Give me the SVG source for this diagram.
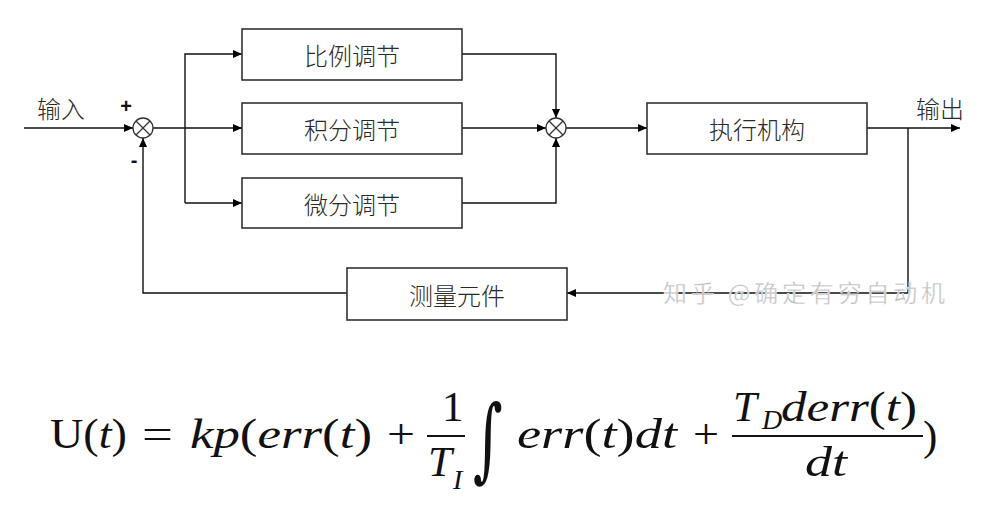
<svg xmlns="http://www.w3.org/2000/svg" width="995" height="507" viewBox="0 0 995 507">
<defs>
<marker id="arr" markerUnits="userSpaceOnUse" markerWidth="9" markerHeight="8" refX="9" refY="4" orient="auto">
<path d="M0,0 L9,4 L0,8 z" fill="#000"/>
</marker>
<style>
.box{fill:#fff;stroke:#333;stroke-width:1.6}
.lbl{font-family:"Noto Sans CJK SC","Noto Sans",sans-serif;font-size:24px;fill:#2a2a2a;text-anchor:middle;dominant-baseline:central;font-weight:300}
.wire{fill:none;stroke:#111;stroke-width:1.4}
.sum circle{fill:#fff;stroke:#333;stroke-width:1.3}
.sum line{stroke:#333;stroke-width:1.2}
.m{font-family:"Liberation Serif","Times New Roman",serif;font-size:43px;fill:#111}
.i{font-style:italic}
.sub{font-size:28px;font-style:italic}
.sign{font-family:"Liberation Sans",Arial,sans-serif;font-size:20px;font-weight:bold;fill:#111;text-anchor:middle}
</style>
</defs>
<rect width="995" height="507" fill="#fff"/>

<g id="connectors">
<path class="wire" d="M24,128 H133" marker-end="url(#arr)"/>
<path class="wire" d="M153,128 H242" marker-end="url(#arr)"/>
<path class="wire" d="M185,203 V54 H242" marker-end="url(#arr)"/>
<path class="wire" d="M185,203 H242" marker-end="url(#arr)"/>
<path class="wire" d="M462,54 H556 V118" marker-end="url(#arr)"/>
<path class="wire" d="M462,128 H546" marker-end="url(#arr)"/>
<path class="wire" d="M462,203 H556 V138" marker-end="url(#arr)"/>
<path class="wire" d="M566,128 H647" marker-end="url(#arr)"/>
<path class="wire" d="M867,128 H960" marker-end="url(#arr)"/>
<path class="wire" d="M908,128 V293 H567" marker-end="url(#arr)"/>
<path class="wire" d="M347,293 H143 V138" marker-end="url(#arr)"/>
</g>

<g id="sum1" class="sum">
<circle cx="143" cy="128" r="10"/>
<line x1="136" y1="121" x2="150" y2="135"/>
<line x1="150" y1="121" x2="136" y2="135"/>
</g>
<g id="sum2" class="sum">
<circle cx="556" cy="128" r="10"/>
<line x1="549" y1="121" x2="563" y2="135"/>
<line x1="563" y1="121" x2="549" y2="135"/>
</g>

<g id="labels">
<text class="lbl" x="61" y="107">输入</text>
<text class="sign" x="126" y="113">+</text>
<text class="sign" x="134" y="167">-</text>
<text class="lbl" x="940" y="107">输出</text>
</g>

<g id="p"><rect class="box" x="242" y="29" width="220" height="51"/><text class="lbl" x="352" y="54">比例调节</text></g>
<g id="i"><rect class="box" x="242" y="103" width="220" height="51"/><text class="lbl" x="352" y="128">积分调节</text></g>
<g id="d"><rect class="box" x="242" y="178" width="220" height="50"/><text class="lbl" x="352" y="203">微分调节</text></g>
<g id="act"><rect class="box" x="647" y="103" width="220" height="51"/><text class="lbl" x="757" y="128">执行机构</text></g>
<g id="meas"><rect class="box" x="347" y="268" width="220" height="52"/><text class="lbl" x="457" y="294">测量元件</text></g>

<text x="663" y="302" font-family="Noto Sans CJK SC, sans-serif" font-size="24" fill="#c0c0c0" stroke="#fff" stroke-width="0.4" textLength="282">知乎 @确定有穷自动机</text>

<g id="formula" class="m">
<text x="50" y="448" textLength="77" lengthAdjust="spacingAndGlyphs">U(<tspan class="i">t</tspan>)</text>
<text x="142" y="448" textLength="31" lengthAdjust="spacingAndGlyphs">=</text>
<text x="190" y="448" textLength="182" lengthAdjust="spacingAndGlyphs"><tspan class="i">kp</tspan>(<tspan class="i">err</tspan>(<tspan class="i">t</tspan>)</text>
<text x="387" y="448" textLength="28" lengthAdjust="spacingAndGlyphs">+</text>
<text x="442" y="421">1</text>
<line x1="427" y1="436" x2="465" y2="436" stroke="#111" stroke-width="2"/>
<text class="i" x="428" y="476">T</text>
<text class="sub" x="453" y="489">I</text>
<text x="473" y="470" font-family="DejaVu Serif, serif" font-size="76" transform="translate(473,0) scale(0.75,1.2) translate(-473,-78)">∫</text>
<text x="517" y="448" textLength="160" lengthAdjust="spacingAndGlyphs"><tspan class="i">err</tspan>(<tspan class="i">t</tspan>)<tspan class="i">dt</tspan></text>
<text x="693" y="448" textLength="26" lengthAdjust="spacingAndGlyphs">+</text>
<line x1="732" y1="436" x2="923" y2="436" stroke="#111" stroke-width="2"/>
<text class="i" x="733" y="421">T</text>
<text class="sub" x="762" y="429">D</text>
<text x="781" y="421" textLength="136" lengthAdjust="spacingAndGlyphs"><tspan class="i">derr</tspan>(<tspan class="i">t</tspan>)</text>
<text class="i" x="805" y="476" textLength="42" lengthAdjust="spacingAndGlyphs">dt</text>
<text x="923" y="450">)</text>
</g>
</svg>
